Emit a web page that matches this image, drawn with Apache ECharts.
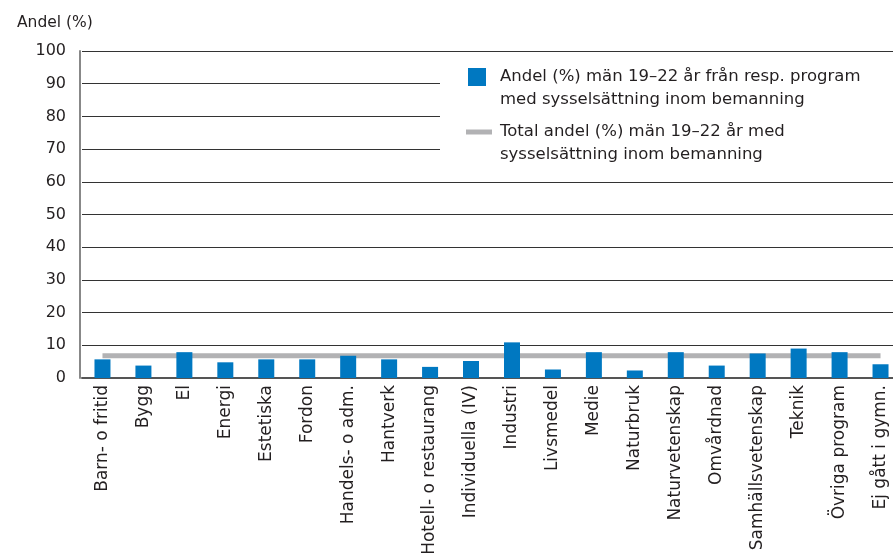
<!DOCTYPE html>
<html>
<head>
<meta charset="utf-8">
<script src="https://cdn.jsdelivr.net/npm/echarts@6/dist/echarts.min.js"></script>
<style>
  html, body { margin: 0; padding: 0; background: #fff; }
  #main { width: 893px; height: 557px; }
</style>
</head>
<body>
<div id="main"></div>
<script>
// program categories
var categories = ['Barn- o fritid', 'Bygg', 'El', 'Energi', 'Estetiska', 'Fordon',
  'Handels- o adm.', 'Hantverk', 'Hotell- o restaurang', 'Individuella (IV)', 'Industri',
  'Livsmedel', 'Medie', 'Naturbruk', 'Naturvetenskap', 'Omvårdnad',
  'Samhällsvetenskap', 'Teknik', 'Övriga program', 'Ej gått i gymn.'];
// andel per program
var andelValues = [5.7, 3.8, 7.9, 4.8, 5.7, 5.7, 6.8, 5.7, 3.4, 5.2, 10.9,
  2.6, 7.9, 2.3, 7.9, 3.8, 7.5, 9.0, 7.9, 4.2];
// total andel (same for all)
var totalAndel = 6.8;
var totalValues = categories.map(function () { return totalAndel; });
var yTicks = [0, 10, 20, 30, 40, 50, 60, 70, 80, 90, 100];

var barName = 'Andel (%) män 19–22 år från resp. program\nmed sysselsättning inom bemanning';
var lineName = 'Total andel (%) män 19–22 år med\nsysselsättning inom bemanning';

var font = 'DejaVu Sans';
var txt = '#231f20';

// legend icons sit on the first text line (box is two lines high)
var squareIcon = 'path://M0,0 M0,46 M0,2.5 L18,2.5 L18,20.5 L0,20.5 Z';
var barIcon = 'path://M0,0 M0,46 M0,9 L26,9 L26,14 L0,14 Z';

var chart = echarts.init(document.getElementById('main'));
chart.setOption({
  animation: false,
  title: {
    text: 'Andel (%)',
    left: 12, top: 10,
    textStyle: { fontFamily: font, fontSize: 15.5, fontWeight: 'normal', color: txt }
  },
  graphic: [{
    type: 'rect', left: 440, top: 56, z: 5,
    shape: { width: 453, height: 112 },
    style: { fill: '#fff' }
  }],
  legend: [{
    data: [barName],
    left: 468, top: 65.5, padding: 0, z: 10,
    icon: squareIcon, itemWidth: 18, itemHeight: 46,
    selectedMode: false,
    textStyle: { fontFamily: font, fontSize: 16.5, color: txt, lineHeight: 23, padding: [0, 0, 0, 9] }
  }, {
    data: [lineName],
    left: 466, top: 120.5, padding: 0, z: 10,
    icon: barIcon, itemWidth: 26, itemHeight: 46,
    selectedMode: false,
    textStyle: { fontFamily: font, fontSize: 16.5, color: txt, lineHeight: 23, padding: [0, 0, 0, 3] }
  }],
  grid: { left: 82, width: 819, top: 51, height: 327, outerBoundsMode: 'none', containLabel: false },
  xAxis: {
    type: 'category',
    data: categories,
    axisLine: { lineStyle: { color: '#555', width: 2 } },
    axisTick: { show: false },
    axisLabel: { rotate: 90, margin: 7, interval: 0, fontFamily: font, fontSize: 17, color: txt }
  },
  yAxis: {
    type: 'value',
    min: 0, max: 100, interval: 10,
    offset: 2,
    axisLine: { show: true, lineStyle: { color: '#888', width: 2 } },
    axisTick: { show: false },
    axisLabel: {
      margin: 14, fontFamily: font, fontSize: 16, color: txt,
      formatter: function (v) { return yTicks.indexOf(v) >= 0 ? String(v) : ''; }
    },
    splitLine: { lineStyle: { color: '#333', width: 1 } }
  },
  series: [{
    name: lineName,
    type: 'line',
    data: totalValues,
    symbol: 'none',
    color: '#b2b2b4',
    lineStyle: { width: 5, color: '#b2b2b4' },
    z: 1
  }, {
    name: barName,
    type: 'bar',
    data: andelValues,
    barWidth: 16,
    color: '#0078c1',
    z: 2
  }]
});
</script>
</body>
</html>
